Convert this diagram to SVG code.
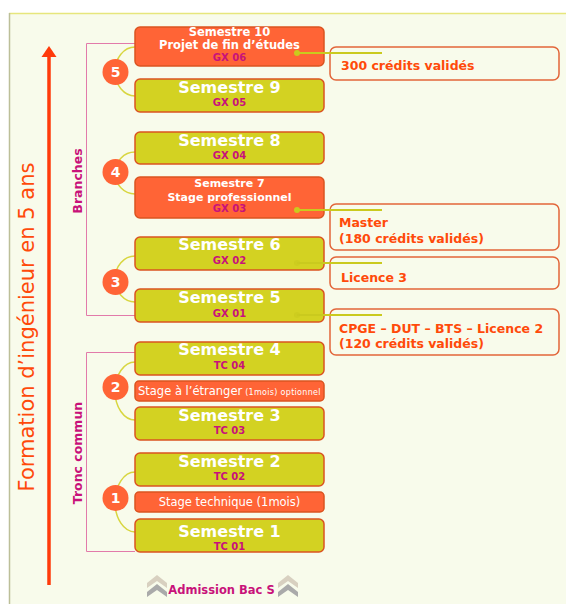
<svg xmlns="http://www.w3.org/2000/svg" width="566" height="604" viewBox="0 0 566 604">
<style>
text{font-family:"DejaVu Sans","Liberation Sans",sans-serif}
.bg{fill:#F8FBEB}
.y{fill:#D3D222;stroke:#DA5420;stroke-width:1.5}
.o{fill:#FF6436;stroke:#DA5420;stroke-width:1.5}
.cb{fill:none;stroke:#E2663A;stroke-width:1.5}
.big{font-size:16px;font-weight:bold;fill:#fff;text-anchor:middle}
.mid{font-size:11.5px;font-weight:bold;fill:#fff;text-anchor:middle}
.code{font-size:10px;font-weight:bold;fill:#C8127A;text-anchor:middle}
.st{font-size:11.5px;fill:#fff}
.cr{font-size:12.5px;font-weight:bold;fill:#FF4A0A}
.num{font-size:14px;font-weight:bold;fill:#fff;text-anchor:middle}
.lab{font-size:12.5px;font-weight:bold;fill:#C8127A;text-anchor:middle}
.arc{fill:none;stroke:#D8D640;stroke-width:1.5}
.br{fill:none;stroke:#E27AAA;stroke-width:1}
.ln{stroke:#CACA1E;stroke-width:2}
.dot{fill:#CACA1E}
.circ{fill:#FF6436}
</style>
<rect x="0" y="0" width="566" height="604" fill="#ffffff"/>
<rect class="bg" x="9" y="13" width="557" height="591"/>
<line x1="9" y1="13.5" x2="566" y2="13.5" stroke="#E6E67C" stroke-width="1.5"/>
<line x1="9.5" y1="13" x2="9.5" y2="604" stroke="#BCBF98" stroke-width="1.5"/>

<g id="connectors">
  <line x1="49" y1="56" x2="49" y2="585" stroke="#FF3A0A" stroke-width="3.5"/>
  <polygon points="49,46 41.5,57 56.5,57" fill="#FF3A0A"/>
  <polyline class="br" points="135,43.5 86.5,43.5 86.5,315.5 135,315.5"/>
  <polyline class="br" points="135,352.5 86.5,352.5 86.5,551.5 135,551.5"/>
  <path class="arc" d="M135,47 A20,24.5 0 0 0 135,96"/>
  <path class="arc" d="M135,152 A20,21 0 0 0 135,194"/>
  <path class="arc" d="M135,256 A20,23 0 0 0 135,302"/>
  <path class="arc" d="M135,362 A20,29 0 0 0 135,420"/>
  <path class="arc" d="M135,472 A20,30 0 0 0 135,532"/>
</g>

<text x="34" y="327" transform="rotate(-90 34 327)" font-size="21" fill="#FF4A0A" text-anchor="middle" style="font-family:'DejaVu Sans','Liberation Sans',sans-serif">Formation d’ingénieur en 5 ans</text>
<text class="lab" x="82" y="181" transform="rotate(-90 82 181)">Branches</text>
<text class="lab" x="82" y="453" transform="rotate(-90 82 453)">Tronc commun</text>

<g id="s10">
  <rect class="o" x="135" y="27" width="189" height="39" rx="5"/>
  <text class="mid" x="229.5" y="36">Semestre 10</text>
  <text class="mid" x="229.5" y="49">Projet de fin d’études</text>
  <text class="code" x="229.5" y="61">GX 06</text>
</g>
<g id="s9">
  <rect class="y" x="135" y="79" width="189" height="33" rx="5"/>
  <text class="big" x="229.5" y="93">Semestre 9</text>
  <text class="code" x="229.5" y="106">GX 05</text>
</g>
<g id="s8">
  <rect class="y" x="135" y="132" width="189" height="32" rx="5"/>
  <text class="big" x="229.5" y="146">Semestre 8</text>
  <text class="code" x="229.5" y="159">GX 04</text>
</g>
<g id="s7">
  <rect class="o" x="135" y="177" width="189" height="41" rx="5"/>
  <text class="mid" x="229.5" y="187" style="font-size:11px">Semestre 7</text>
  <text class="mid" x="229.5" y="201" style="font-size:11px">Stage professionnel</text>
  <text class="code" x="229.5" y="212">GX 03</text>
</g>
<g id="s6">
  <rect class="y" x="135" y="237" width="189" height="33" rx="5"/>
  <text class="big" x="229.5" y="250">Semestre 6</text>
  <text class="code" x="229.5" y="264">GX 02</text>
</g>
<g id="s5">
  <rect class="y" x="135" y="289" width="189" height="33" rx="5"/>
  <text class="big" x="229.5" y="303">Semestre 5</text>
  <text class="code" x="229.5" y="317">GX 01</text>
</g>
<g id="s4">
  <rect class="y" x="135" y="342" width="189" height="33" rx="5"/>
  <text class="big" x="229.5" y="355">Semestre 4</text>
  <text class="code" x="229.5" y="369">TC 04</text>
</g>
<g id="stage-etranger">
  <rect class="o" x="135" y="381" width="189" height="20" rx="4"/>
  <text class="st" x="138" y="395">Stage à l’étranger<tspan font-size="8" dx="3" letter-spacing="0.3">(1mois) optionnel</tspan></text>
</g>
<g id="s3">
  <rect class="y" x="135" y="407" width="189" height="33" rx="5"/>
  <text class="big" x="229.5" y="421">Semestre 3</text>
  <text class="code" x="229.5" y="434">TC 03</text>
</g>
<g id="s2">
  <rect class="y" x="135" y="453" width="189" height="33" rx="5"/>
  <text class="big" x="229.5" y="467">Semestre 2</text>
  <text class="code" x="229.5" y="480">TC 02</text>
</g>
<g id="stage-technique">
  <rect class="o" x="135" y="492" width="189" height="20" rx="4"/>
  <text class="st" x="229.5" y="506" text-anchor="middle">Stage technique (1mois)</text>
</g>
<g id="s1">
  <rect class="y" x="135" y="519" width="189" height="33" rx="5"/>
  <text class="big" x="229.5" y="537">Semestre 1</text>
  <text class="code" x="229.5" y="550">TC 01</text>
</g>

<g id="year5"><circle class="circ" cx="115.5" cy="72" r="13"/><text class="num" x="115.5" y="77">5</text></g>
<g id="year4"><circle class="circ" cx="115.5" cy="172" r="13"/><text class="num" x="115.5" y="177">4</text></g>
<g id="year3"><circle class="circ" cx="115.5" cy="282" r="13"/><text class="num" x="115.5" y="287">3</text></g>
<g id="year2"><circle class="circ" cx="115.5" cy="387" r="13"/><text class="num" x="115.5" y="392">2</text></g>
<g id="year1"><circle class="circ" cx="115.5" cy="498" r="13"/><text class="num" x="115.5" y="503">1</text></g>

<g id="credits300">
  <rect class="cb" x="330" y="47" width="229" height="33" rx="6"/>
  <text class="cr" x="341" y="70">300 crédits validés</text>
</g>
<g id="master">
  <rect class="cb" x="330" y="204" width="229" height="46" rx="6"/>
  <text class="cr" x="339" y="227">Master</text>
  <text class="cr" x="339" y="243">(180 crédits validés)</text>
</g>
<g id="licence3">
  <rect class="cb" x="330" y="257" width="229" height="32" rx="6"/>
  <text class="cr" x="341" y="282">Licence 3</text>
</g>
<g id="cpge">
  <rect class="cb" x="330" y="309" width="229" height="46" rx="6"/>
  <text class="cr" x="339" y="333">CPGE – DUT – BTS – Licence 2</text>
  <text class="cr" x="339" y="348">(120 crédits validés)</text>
</g>

<g id="credit-links">
  <line class="ln" x1="297" y1="53" x2="382" y2="53"/><circle class="dot" cx="297" cy="53" r="3"/>
  <line class="ln" x1="297" y1="210" x2="382" y2="210"/><circle class="dot" cx="297" cy="210" r="3"/>
  <line class="ln" x1="297" y1="263" x2="382" y2="263"/><circle class="dot" cx="297" cy="263" r="3" fill-opacity="0.6"/>
  <line class="ln" x1="297" y1="315" x2="382" y2="315"/><circle class="dot" cx="297" cy="315" r="3" fill-opacity="0.6"/>
</g>

<g id="admission">
  <polygon points="147,583 157,575 167,583 167,588 157,581 147,588" fill="#D8D0C0"/>
  <polygon points="147,592 157,584 167,592 167,597 157,590 147,597" fill="#AAAAAA"/>
  <text x="221.5" y="594" font-size="11.5" font-weight="bold" fill="#C8127A" text-anchor="middle">Admission Bac S</text>
  <polygon points="278,583 288,575 298,583 298,588 288,581 278,588" fill="#D8D0C0"/>
  <polygon points="278,592 288,584 298,592 298,597 288,590 278,597" fill="#AAAAAA"/>
</g>
</svg>
